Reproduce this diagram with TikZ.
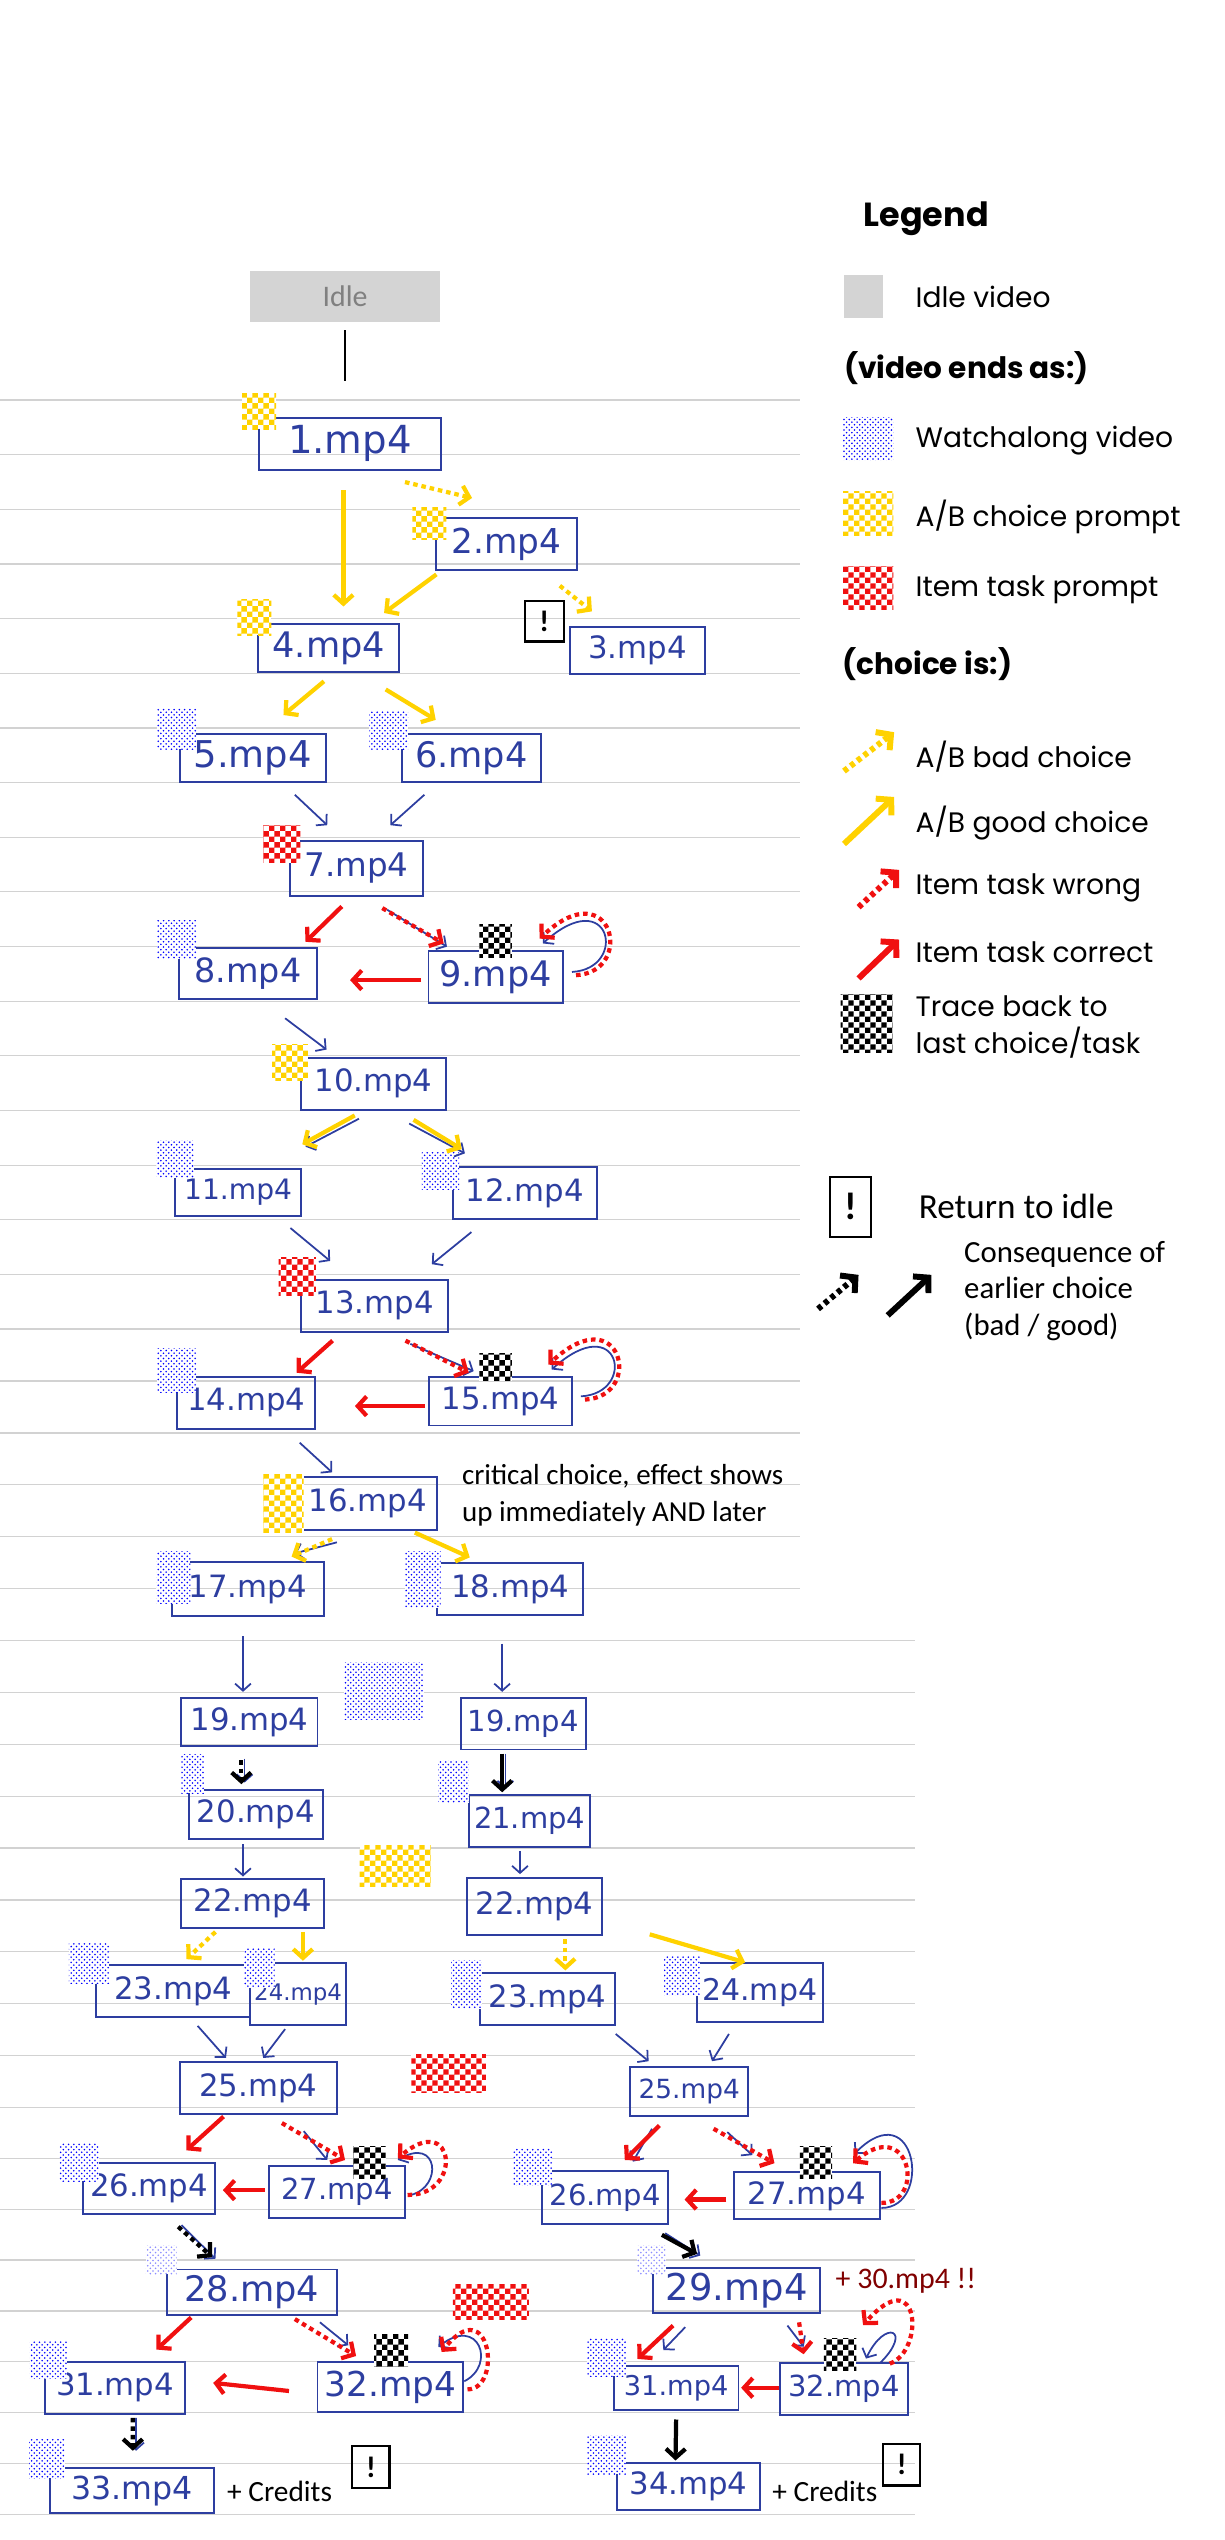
\documentclass[tikz,border=0pt]{standalone}
\usepackage{fontspec}
\setmainfont{Carlito}
\newfontfamily\hand{DejaVu Sans}
\newfontfamily\geo{Poppins}
\usetikzlibrary{arrows.meta, calc, patterns}

\definecolor{ink}{RGB}{45,62,160}
\definecolor{gold}{RGB}{255,210,0}
\definecolor{taskred}{RGB}{240,16,16}
\definecolor{maroon}{RGB}{128,0,0}
\definecolor{rulegray}{RGB}{210,210,210}

\pgfdeclarepatternformonly{chk}{\pgfpointorigin}{\pgfqpoint{6.4pt}{6.4pt}}{\pgfqpoint{6.4pt}{6.4pt}}{%
  \pgfpathrectangle{\pgfpointorigin}{\pgfqpoint{3.2pt}{3.2pt}}%
  \pgfpathrectangle{\pgfqpoint{3.2pt}{3.2pt}}{\pgfqpoint{3.2pt}{3.2pt}}%
  \pgfusepath{fill}}

\newcommand\pxu{0.3238mm}

\tikzset{
  sz/.style 2 args={minimum width=#1*\pxu, minimum height=#2*\pxu},
  fs/.style={font=\hand\fontsize{#1}{#1}\selectfont},
  vid/.style={draw=ink, line width=1.1pt, inner sep=0pt, text=ink, fs=17.5},
  swatch/.style={inner sep=0pt, preaction={fill=white}},
  abm/.style={swatch, pattern=chk, pattern color=gold},
  watchm/.style={swatch, pattern=crosshatch dots, pattern color=blue},
  taskm/.style={swatch, pattern=chk, pattern color=taskred},
  tracem/.style={swatch, pattern=chk, pattern color=black},
  idlem/.style={fill=black!17, inner sep=0pt},
  tipb/.style={-{Straight Barb[length=5pt,width=11pt]}},
  good/.style={draw=gold, line width=2.4pt, tipb},
  bad/.style={good, dash pattern=on 2.6pt off 2.2pt},
  taskok/.style={draw=taskred, line width=2.4pt, tipb},
  taskbad/.style={taskok, dash pattern=on 2.6pt off 2.2pt},
  later/.style={draw=black, line width=2.4pt, tipb},
  laterbad/.style={later, dash pattern=on 2.6pt off 2.2pt},
  pen/.style={draw=ink, line width=1pt, -{Straight Barb[length=4pt,width=9pt]}},
  leg/.style={line width=3.4pt, -{Straight Barb[length=6pt,width=13pt]}},
  bang/.style={draw, line width=1.3pt, inner sep=0pt, font=\bfseries\fontsize{17}{17}\selectfont},
  ruling/.style={draw=rulegray, line width=0.7pt},
  leghead/.style={font=\geo\bfseries\fontsize{16.8}{20}\selectfont, anchor=west, inner sep=0pt},
  legtext/.style={font=\geo\fontsize{16}{21}\selectfont, anchor=west, inner sep=0pt},
  note/.style={font=\fontsize{16.5}{21}\selectfont, anchor=west, inner sep=0pt, align=left},
}

\begin{document}
\begin{tikzpicture}[x=0.3238mm, y=-0.3238mm]
\useasboundingbox (0,0) rectangle (756,1568);

% ruled paper
\foreach \k in {0,...,17}{
  \pgfmathsetmacro\ly{246.9+33.74*\k}
  \draw[ruling] (0,\ly) -- (494,\ly);
}
\foreach \k in {1,...,15}{
  \pgfmathsetmacro\ly{820.5+32.03*\k}
  \pgfmathsetmacro\lx{\ly<1000 ? 494 : 565}
  \draw[ruling] (0,\ly) -- (\lx,\ly);
}
\foreach \k in {1,...,8}{
  \pgfmathsetmacro\ly{1301+31.4*\k}
  \draw[ruling] (0,\ly) -- (565,\ly);
}

% videos
\node[idlem, sz={117}{31}, text=black!50, font=\fontsize{17}{17}\selectfont] (idle) at (213,183) {Idle};
\node[vid, sz={112}{32}, fs=22] (v1) at (216,274) {1.mp4};
\node[vid, sz={87}{32}, fs=19.5] (v2) at (312.5,336) {2.mp4};
\node[vid, sz={83}{29}, fs=17.5] (v3) at (393.5,401.5) {3.mp4};
\node[vid, sz={87}{30}, fs=20] (v4) at (203,400) {4.mp4};
\node[vid, sz={90}{30}, fs=21] (v5) at (156,468) {5.mp4};
\node[vid, sz={86}{30}, fs=20] (v6) at (291,468) {6.mp4};
\node[vid, sz={82}{34}, fs=18.5] (v7) at (220,536) {7.mp4};
\node[vid, sz={85}{31}, fs=19] (v8) at (153,601) {8.mp4};
\node[vid, sz={83}{32}, fs=20] (v9) at (306,603) {9.mp4};
\node[vid, sz={89}{32}] (v10) at (230.6,669) {10.mp4};
\node[vid, sz={78}{29}, fs=16] (v11) at (147,736) {11.mp4};
\node[vid, sz={89}{32}] (v12) at (324,736.6) {12.mp4};
\node[vid, sz={91}{32}] (v13) at (231.3,806) {13.mp4};
\node[vid, sz={85}{32}] (v14) at (152,866) {14.mp4};
\node[vid, sz={88}{30}] (v15) at (309,865) {15.mp4};
\node[vid, sz={85}{33}] (v16) at (227,928) {16.mp4};
\node[vid, sz={94}{33}] (v17) at (153,981) {17.mp4};
\node[vid, sz={90}{32}] (v18) at (315,981) {18.mp4};
\node[vid, sz={84}{30}] (v19a) at (154,1063) {19.mp4};
\node[vid, sz={77}{32}, fs=16.5] (v19b) at (323,1064) {19.mp4};
\node[vid, sz={83}{30}] (v20) at (158,1120) {20.mp4};
\node[vid, sz={75}{32}, fs=16.5] (v21) at (327,1124) {21.mp4};
\node[vid, sz={88}{30}] (v22a) at (156,1175) {22.mp4};
\node[vid, sz={83}{35}] (v22b) at (330,1177) {22.mp4};
\node[vid, sz={95}{32}] (v23a) at (107,1229) {23.mp4};
\node[vid, sz={59}{38}, fs=13] (v24a) at (184,1231) {24.mp4};
\node[vid, sz={83}{32}] (v23b) at (338,1234) {23.mp4};
\node[vid, sz={78}{36}, fs=17] (v24b) at (469,1230) {24.mp4};
\node[vid, sz={97}{32}] (v25a) at (159.5,1289) {25.mp4};
\node[vid, sz={73}{30}, fs=15] (v25b) at (425.5,1291) {25.mp4};
\node[vid, sz={82}{32}] (v26a) at (92,1351) {26.mp4};
\node[vid, sz={84}{32}, fs=16.5] (v27a) at (208,1353) {27.mp4};
\node[vid, sz={78}{33}, fs=16.5] (v26b) at (373.6,1356.5) {26.mp4};
\node[vid, sz={90}{29}] (v27b) at (498,1355.5) {27.mp4};
\node[vid, sz={105}{28}, fs=20] (v28) at (155.5,1415) {28.mp4};
\node[vid, sz={103}{28}, fs=21] (v29) at (454.8,1414) {29.mp4};
\node[vid, sz={86}{32}] (v31a) at (71,1474) {31.mp4};
\node[vid, sz={90}{31}, fs=19.5] (v32a) at (241,1473.5) {32.mp4};
\node[vid, sz={77}{27}, fs=15.5] (v31b) at (417.4,1474) {31.mp4};
\node[vid, sz={79}{32}, fs=16.5] (v32b) at (521,1474.6) {32.mp4};
\node[vid, sz={101}{28}, fs=18] (v33) at (81.5,1537.5) {33.mp4};
\node[vid, sz={88.5}{29}, fs=17.5] (v34) at (425,1535) {34.mp4};

% end markers
\node[abm, sz={21}{22}] (m1) at (160,254) {};
\node[abm, sz={21}{20}] (m2) at (265,323) {};
\node[abm, sz={21}{22}] (m4) at (157,381) {};
\node[watchm, sz={24}{25}] (m5) at (109,450) {};
\node[watchm, sz={24}{23}] (m6) at (240,451) {};
\node[taskm, sz={23}{23}] (m7) at (174,521) {};
\node[watchm, sz={24}{24}] (m8) at (109,580) {};
\node[tracem, sz={20}{20}] (m9) at (306,581) {};
\node[abm, sz={22}{22}] (m10) at (179,656) {};
\node[watchm, sz={23}{23}] (m11) at (108,715.5) {};
\node[watchm, sz={23}{23}] (m12) at (272,723) {};
\node[taskm, sz={23}{23}] (m13) at (183.5,788) {};
\node[watchm, sz={24}{27}] (m14) at (109,846) {};
\node[tracem, sz={20}{17}] (m15) at (306,844) {};
\node[abm, sz={25}{36}] (m16) at (175,928) {};
\node[watchm, sz={21}{32}] (m17) at (107,974) {};
\node[watchm, sz={22}{35}] (m18) at (261,975) {};
\node[watchm, sz={49}{35}] (m19) at (237,1044) {};
\node[watchm, sz={14}{24}] (m20) at (119,1095) {};
\node[watchm, sz={19}{26}] (m21) at (280,1100) {};
\node[abm, sz={44}{25}] (m22) at (244,1152) {};
\node[watchm, sz={25}{25}] (m23a) at (55,1212) {};
\node[watchm, sz={19}{24}] (m24a) at (160,1215) {};
\node[watchm, sz={19}{30}] (m23b) at (288,1225) {};
\node[watchm, sz={22}{24}] (m24b) at (421,1220) {};
\node[taskm, sz={46}{24}] (m25) at (277,1280) {};
\node[watchm, sz={24}{23}] (m26a) at (49,1335) {};
\node[tracem, sz={20}{20}] (m27a) at (228,1335) {};
\node[watchm, sz={24}{23}] (m26b) at (329,1337.5) {};
\node[tracem, sz={20}{20}] (m27b) at (503.7,1335) {};
\node[watchm, sz={19}{18}, pattern color=blue!45] (m28) at (99.5,1395) {};
\node[watchm, sz={18}{18}, pattern color=blue!45] (m29) at (402,1395) {};
\node[taskm, sz={47}{22}] (m28r) at (303,1421) {};
\node[watchm, sz={23}{23}] (m31a) at (30,1457) {};
\node[tracem, sz={21}{20}] (m32a) at (241.5,1451) {};
\node[watchm, sz={24}{23}] (m31b) at (374.6,1455.3) {};
\node[tracem, sz={20}{20}] (m32b) at (518.6,1453.5) {};
\node[watchm, sz={22}{24}] (m33) at (29,1518) {};
\node[watchm, sz={24}{24}] (m34) at (374.6,1515.3) {};

% return to idle, notes
\node[bang, sz={24}{25}] (b3) at (336,383.5) {!};
\node[bang, sz={23}{26}] (b33) at (229,1523) {!};
\node[bang, sz={23}{25.5}] (b34) at (556.6,1521.5) {!};
\node[note] (tcrit) at (285,923) {critical choice, effect shows\\up immediately AND later};
\node[note, text=maroon, font=\fontsize{17}{21}\selectfont] (t30) at (515.7,1408) {+ 30.mp4 !!};
\node[note, font=\fontsize{16.7}{20}\selectfont] (tcred1) at (140,1538) {+ Credits};
\node[note, font=\fontsize{16.7}{20}\selectfont] (tcred2) at (476.6,1538) {+ Credits};

% top part
\draw[line width=1pt] ($(idle.south)+(0,5)$) -- ($(v1.north)+(-3,-22)$);
\draw[good] ($(v1.south)+(-4,12)$) -- ($(v4.north)+(9,-10)$);
\draw[bad] ($(v1.south)+(34,7)$) -- ($(v2.north west)+(23,-12)$);
\draw[good] ($(v2.south west)+(1,2)$) -- ($(v4.north east)+(-10,-6)$);
\draw[bad] ($(v2.south east)+(-11,9)$) -- ($(v3.north west)+(14,-9)$);
\draw[good] ($(v4.south)+(-3,5)$) -- ($(v5.north)+(19,-11)$);
\draw[good] ($(v4.south east)+(-9,10)$) -- ($(v6.north)+(-22,-8)$);
\draw[pen] ($(v5.south)+(26,7)$) -- ($(v7.north)+(-18,-9)$);
\draw[pen] ($(v6.south)+(-29,7)$) -- ($(v7.north)+(21,-9)$);

% 7 to 10
\draw[taskok] ($(v7.south)+(-9,6)$) -- ($(v8.north east)+(-7.5,-3.5)$);
\draw[pen] ($(v7.south)+(19,8)$) -- ($(v9.north west)+(12,-2)$);
\draw[taskbad] ($(v7.south)+(16,7)$) -- ($(v9.north west)+(10,-4)$);
\draw[taskok] ($(v9.west)+(-4,2)$) -- ($(v8.east)+(20,4)$);
\draw[pen] ($(v8.south)+(23,11.5)$) -- ($(v10.north)+(-29,-4.5)$);

% 10 to 16
\draw[pen] ($(v10.south)+(-9,5)$) -- ($(v11.north east)+(2,-13)$);
\draw[good] ($(v10.south)+(-11.6,3)$) -- ($(v11.north east)+(0,-14.5)$);
\draw[pen] ($(v10.south)+(22,8)$) -- ($(v12.north)+(-37,-8)$);
\draw[good] ($(v10.south)+(24.7,5.7)$) -- ($(v12.north)+(-39,-10.6)$);
\draw[pen] ($(v11.south east)+(-7.3,7)$) -- ($(v13.north)+(-27.5,-11)$);
\draw[pen] ($(v12.south)+(-33,7.4)$) -- ($(v13.north)+(35.3,-9)$);
\draw[taskok] ($(v13.south)+(-26,5)$) -- ($(v14.north east)+(-12,-2)$);
\draw[pen] ($(v13.south)+(22,7)$) -- ($(v15.north west)+(28,-3)$);
\draw[taskbad] ($(v13.south)+(19,5)$) -- ($(v15.north west)+(25,-2)$);
\draw[taskok] ($(v15.west)+(-2,3)$) -- ($(v14.east)+(24,2)$);
\draw[pen] ($(v14.south)+(33,8)$) -- ($(v16.north)+(-22,-2)$);

% trace back loops
\foreach \n in {v9,v15}{
  \draw[pen] ($(\n.east)+(5,-3)$) .. controls +(35,-2) and +(42,-38) .. ($(\n.north east)+(-13,-4)$);
  \draw[taskbad] ($(\n.east)+(7.5,-1)$) .. controls +(37,-2) and +(45,-42) .. ($(\n.north east)+(-15,-7)$);
}
\draw[pen] ($(v27a.east)+(3,2)$) .. controls +(20,-5) and +(25,-15) .. ($(v27a.north east)+(-5,-3)$);
\draw[taskbad] ($(v27a.east)+(1,2)$) .. controls +(35,0) and +(35,-30) .. ($(v27a.north east)+(-5,-4)$);
\draw[pen] ($(v27b.east)+(0.5,7.5)$) .. controls +(32,0) and +(38,-38) .. ($(v27b.north east)+(-16,-11)$);
\draw[taskbad] ($(v27b.east)+(0.5,4.4)$) .. controls +(28,0) and +(35,-30) .. ($(v27b.north east)+(-17,-5)$);
\draw[pen] ($(v32a.east)+(0,-3.5)$) .. controls +(20,-10) and +(25,-20) .. ($(v32a.north east)+(-16,-8.6)$);
\draw[taskbad] ($(v32a.east)+(2,1.5)$) .. controls +(22,0) and +(30,-38) .. ($(v32a.north east)+(-14,-5.5)$);
\draw[pen] ($(v32b.north east)+(-17.5,0.4)$) .. controls +(20,-20) and +(12,-25) .. ($(v32b.north east)+(-26.5,-2)$);
\draw[taskbad] ($(v32b.north east)+(-11.8,1.1)$) .. controls +(22,-8) and +(35,-40) .. ($(v32b.north east)+(-28.3,-22.6)$);

% 16 to 19
\draw[pen] ($(v16.south)+(-19,7)$) -- ($(v17.north)+(29,-5)$);
\draw[bad] ($(v16.south)+(-22,5)$) -- ($(v17.north)+(27,-3)$);
\draw[good] ($(v16.south east)+(-14,1)$) -- ($(v18.north)+(-25,-3)$);
\draw[pen] ($(v17.south)+(-3,12)$) -- ($(v19a.north)+(-4,-3)$);
\draw[pen] ($(v18.south)+(-5,17)$) -- ($(v19b.north)+(-13,-3)$);

% 19 to 25
\draw[pen] ($(v19a.south)+(-3,7)$) -- ($(v20.north)+(-7,-4)$);
\draw[laterbad] ($(v19a.south)+(-5,8)$) -- ($(v20.north)+(-9,-3)$);
\draw[pen] ($(v19b.south)+(-11,2)$) -- ($(v21.north)+(-15,-3)$);
\draw[later] ($(v19b.south)+(-13,2)$) -- ($(v21.north)+(-17,-1)$);
\draw[pen] ($(v20.south)+(-8,3)$) -- ($(v22a.north)+(-6,-1)$);
\draw[pen] ($(v21.south)+(-6,2)$) -- ($(v22b.north)+(-9,-2)$);
\draw[bad] ($(v22a.south)+(-23,2)$) -- ($(v23a.north east)+(-40,-3)$);
\draw[good] ($(v22a.south)+(31,2)$) -- ($(v24a.north)+(3,-1)$);
\draw[bad] ($(v22b.south)+(19,2)$) -- ($(v23b.north)+(11,-1)$);
\draw[good] ($(v22b.south east)+(29,-1)$) -- ($(v24b.north)+(-9,0)$);
\draw[pen] ($(v23a.south)+(15,5)$) -- ($(v25a.north)+(-20,-2)$);
\draw[pen] ($(v24a.south)+(-8,2)$) -- ($(v25a.north)+(3,-2)$);
\draw[pen] ($(v23b.south east)+(0,5)$) -- ($(v25b.north west)+(12,-3)$);
\draw[pen] ($(v24b.south)+(-19,7)$) -- ($(v25b.north)+(14,-3)$);

% 25 to 29
\draw[taskok] ($(v25a.south)+(-21.5,1)$) -- ($(v26a.north)+(23,-7)$);
\draw[pen] ($(v25a.south)+(28,10)$) -- ($(v27a.north)+(-6,-3)$);
\draw[taskbad] ($(v25a.south)+(14.5,5)$) -- ($(v27a.north)+(5,-3)$);
\draw[taskok] ($(v27a.west)+(-2,-1)$) -- ($(v26a.east)+(4,1)$);
\draw[pen] ($(v25b.south)+(-23,7.5)$) -- ($(v26b.north east)+(-22.5,-5)$);
\draw[taskok] ($(v25b.south)+(-18.5,5.5)$) -- ($(v26b.north east)+(-27.5,-6)$);
\draw[pen] ($(v25b.south)+(23.5,9.6)$) -- ($(v27b.north west)+(12,-10)$);
\draw[taskbad] ($(v25b.south)+(15,7.5)$) -- ($(v27b.north west)+(25.7,-5)$);
\draw[taskok] ($(v27b.west)+(-4,2.3)$) -- ($(v26b.east)+(9.4,1.3)$);
\draw[pen] ($(v26a.south)+(20,6)$) -- ($(v28.north)+(-22.5,-6)$);
\draw[laterbad] ($(v26a.south)+(18,7)$) -- ($(v28.north)+(-24.5,-7)$);
\draw[pen] ($(v26b.south)+(37,5)$) -- ($(v29.north)+(-22.5,-7)$);
\draw[later] ($(v26b.south)+(35,6)$) -- ($(v29.north)+(-24.5,-8)$);

% 28/29 to the end
\draw[taskok] ($(v28.south)+(-37.5,1)$) -- ($(v31a.north east)+(-18,-7)$);
\draw[pen] ($(v28.south)+(42,4)$) -- ($(v32a.north west)+(19.6,-9.6)$);
\draw[taskbad] ($(v28.south)+(26.5,2)$) -- ($(v32a.north west)+(24.4,-3)$);
\draw[taskok] ($(v32a.west)+(-17,2.5)$) -- ($(v31a.east)+(17,-3)$);
\draw[pen] ($(v31a.south)+(13,2)$) -- ($(v33.north)+(2.5,-10)$);
\draw[laterbad] ($(v31a.south)+(11,2)$) -- ($(v33.north)+(0.5,-10)$);
\draw[pen] ($(v29.south)+(-31.8,8)$) -- ($(v31b.north west)+(31.2,-9.2)$);
\draw[taskok] ($(v29.south)+(-39.3,7)$) -- ($(v31b.north west)+(15.2,-3.7)$);
\draw[pen] ($(v29.south east)+(-20.8,7)$) -- ($(v32b.north west)+(15.2,-9.3)$);
\draw[taskbad] ($(v29.south east)+(-13.6,5)$) -- ($(v32b.north west)+(15.2,-4.7)$);
\draw[taskok] ($(v32b.west)+(0,-0.6)$) -- ($(v31b.east)+(1,0)$);
\draw[later] ($(v31b.south)+(0,5.5)$) -- ($(v34.north)+(-8,-1)$);

% legend
\node[font=\geo\bfseries\fontsize{19}{22}\selectfont, anchor=west, inner sep=0pt] (legtitle) at (533,135) {Legend};
\node[idlem, sz={24}{26}] (lidle) at (533,183) {};
\node[legtext] (tidle) at (565,183) {Idle video};
\node[leghead] (tends) at (521,227) {(video ends as:)};
\node[watchm, sz={31}{27}] (lwatch) at (536,271) {};
\node[legtext] (twatch) at (565,272) {Watchalong video};
\node[abm, sz={31}{27}] (lab) at (536,317) {};
\node[legtext] (tab) at (565,319) {A/B choice prompt};
\node[taskm, sz={31}{27}] (ltask) at (536,363) {};
\node[legtext] (ttask) at (565,364) {Item task prompt};
\node[leghead] (tchoice) at (520,410) {(choice is:)};
\node[legtext] (tbad) at (565,467) {A/B bad choice};
\node[legtext] (tgood) at (565,508) {A/B good choice};
\node[legtext] (twrong) at (565,548) {Item task wrong};
\node[legtext] (tok) at (565,588) {Item task correct};
\node[tracem, sz={32}{36}] (ltrace) at (535,632) {};
\node[legtext, align=left] (ttrace) at (565,634) {Trace back to\\last choice/task};
\node[bang, sz={25}{37}, font=\bfseries\fontsize{22}{22}\selectfont] (lbang) at (525,745) {!};
\node[note, font=\fontsize{20}{24}\selectfont] (tbang) at (567,745) {Return to idle};
\node[note, font=\fontsize{17.5}{21}\selectfont] (tlater) at (595,797) {Consequence of\\earlier choice\\(bad / good)};

\coordinate (lbad0) at (521,476);  \coordinate (lbad1) at (552,452);
\coordinate (lgood0) at (521,521); \coordinate (lgood1) at (552,492);
\coordinate (lwrong0) at (530,560); \coordinate (lwrong1) at (555,537);
\coordinate (lok0) at (530,604);   \coordinate (lok1) at (555,580);
\coordinate (llbad0) at (505,808); \coordinate (llbad1) at (530,787);
\coordinate (llgood0) at (548,812); \coordinate (llgood1) at (575,787);
\draw[bad, leg] (lbad0) -- (lbad1);
\draw[good, leg] (lgood0) -- (lgood1);
\draw[taskbad, leg] (lwrong0) -- (lwrong1);
\draw[taskok, leg] (lok0) -- (lok1);
\draw[laterbad, leg] (llbad0) -- (llbad1);
\draw[later, leg] (llgood0) -- (llgood1);
\end{tikzpicture}
\end{document}
